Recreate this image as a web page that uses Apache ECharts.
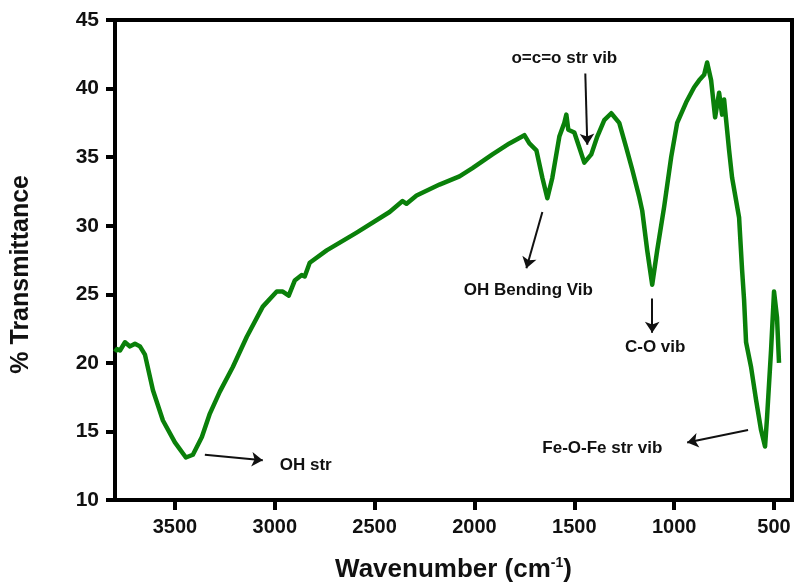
<!DOCTYPE html>
<html>
<head>
  <meta charset="utf-8">
  <script src="https://cdn.jsdelivr.net/npm/echarts@6/dist/echarts.min.js"></script>
  <style>
    body { margin: 0; background: #fff; }
    #ftir_chart { width: 796px; height: 583px; }
  </style>
</head>
<body>
  <div id="ftir_chart"></div>
  <script>
    // spectrum (cm-1, % transmittance)
    var wavenumber = [3800, 3790, 3775, 3750, 3725, 3700, 3675, 3650, 3610, 3560, 3500, 3445, 3410, 3365, 3325, 3275, 3210, 3140,
      3060, 2990, 2960, 2930, 2900, 2865, 2850, 2825, 2740, 2590, 2425, 2360, 2340, 2290, 2175, 2075, 2010, 1910, 1825,
      1750, 1725, 1690, 1660, 1635, 1610, 1575, 1550, 1540, 1530, 1500, 1475, 1450, 1415, 1385, 1350, 1315, 1275, 1240,
      1210, 1175, 1160, 1135, 1110, 1085, 1050, 1015, 985, 940, 900, 875, 850, 835, 815, 795, 775, 760, 750, 725, 710,
      675, 660, 650, 640, 615, 590, 565, 545, 535, 515, 500, 485, 475];
    var transmittance = [20.8, 21.0, 20.9, 21.5, 21.2, 21.4, 21.2, 20.6, 18.0, 15.8, 14.2, 13.1, 13.3, 14.6, 16.3, 17.9, 19.7, 21.9,
      24.1, 25.2, 25.2, 24.9, 26.0, 26.4, 26.3, 27.3, 28.2, 29.5, 31.0, 31.8, 31.6, 32.2, 33.0, 33.6, 34.2, 35.2, 36.0,
      36.6, 36.0, 35.5, 33.5, 32.0, 33.5, 36.5, 37.5, 38.1, 37.0, 36.8, 35.7, 34.6, 35.2, 36.5, 37.7, 38.2, 37.5, 35.7,
      34.1, 32.1, 31.1, 28.2, 25.7, 28.2, 31.4, 35.0, 37.5, 39.0, 40.1, 40.6, 41.0, 41.9, 40.6, 37.9, 39.7, 38.1, 39.2, 35.5, 33.5,
      30.6, 26.8, 24.6, 21.5, 19.7, 17.3, 15.1, 13.9, 16.0, 20.9, 25.2, 23.3, 20.0];

    var xTicks = [500, 1000, 1500, 2000, 2500, 3000, 3500];

    // annotations: label text, label centre, arrow start, arrow end (data units)
    var noteText = ['OH str', 'OH Bending Vib', 'C-O vib', 'o=c=o str vib', 'Fe-O-Fe str vib'];
    var notePos = [[2845, 12.5], [1730, 25.3], [1095, 21.1], [1550, 42.2], [1360, 13.8]];
    var arrowFrom = [[3350, 13.3], [1660, 31.0], [1110, 24.7], [1445, 41.1], [630, 15.1]];
    var arrowTo = [[3060, 12.9], [1740, 26.9], [1110, 22.2], [1435, 35.9], [935, 14.2]];

    var spectrum = wavenumber.map(function (w, i) { return [w, transmittance[i]]; });
    var labels = notePos.map(function (p, i) { return [p[0], p[1], noteText[i]]; });
    var arrows = arrowFrom.map(function (a, i) {
      return [{ coord: a, symbol: 'none' }, { coord: arrowTo[i], symbol: 'arrow', symbolSize: 11 }];
    });

    var chart = echarts.init(document.getElementById('ftir_chart'));
    var font = '"Liberation Sans", Arial, sans-serif';
    chart.setOption({
      animation: false,
      backgroundColor: '#fff',
      grid: {
        left: 115, right: 4, top: 20, bottom: 83, outerBoundsMode: 'none',
        show: true, borderColor: '#000', borderWidth: 4
      },
      graphic: [{
        type: 'text', left: 9, top: 175, rotation: Math.PI / 2, silent: true,
        style: { text: '% Transmittance', fill: '#111', font: 'bold 25px ' + font }
      }],
      xAxis: {
        type: 'value', inverse: true, min: 410, max: 3800,
        name: 'Wavenumber (cm{sup|-1})', nameLocation: 'middle', nameGap: 56,
        nameTextStyle: {
          color: '#111', fontSize: 26, fontWeight: 'bold', fontFamily: font,
          rich: { sup: { fontSize: 14, fontWeight: 'bold', fontFamily: font, verticalAlign: 'top', padding: [0, 0, 14, 0] } }
        },
        axisLine: { lineStyle: { color: '#000', width: 4 } },
        axisTick: { show: true, customValues: xTicks, length: 10, lineStyle: { width: 4, color: '#000' } },
        axisLabel: {
          customValues: xTicks, margin: 17, color: '#111', fontSize: 20, fontWeight: 'bold', fontFamily: font,
          formatter: function (v) { return String(v); }
        },
        splitLine: { show: false }
      },
      yAxis: {
        type: 'value', min: 10, max: 45, interval: 5,
        axisLine: { show: true, lineStyle: { color: '#000', width: 4 } },
        axisTick: { show: true, length: 9, lineStyle: { width: 4, color: '#000' } },
        axisLabel: { margin: 16, color: '#111', fontSize: 21, fontWeight: 'bold', fontFamily: font },
        splitLine: { show: false }
      },
      series: [
        {
          name: 'FTIR', type: 'line', data: spectrum, showSymbol: false, smooth: false,
          lineStyle: { color: '#0a800a', width: 4.5, join: 'round' },
          markLine: {
            silent: true, symbol: ['none', 'arrow'], symbolSize: 11,
            lineStyle: { color: '#111', width: 2, type: 'solid' },
            label: { show: false }, emphasis: { disabled: true },
            data: arrows
          }
        },
        {
          name: 'notes', type: 'custom', data: labels, silent: true,
          renderItem: function (params, api) {
            var pt = api.coord([api.value(0), api.value(1)]);
            return {
              type: 'text', x: pt[0], y: pt[1],
              style: {
                text: labels[params.dataIndex][2], fill: '#111', align: 'center', verticalAlign: 'middle',
                font: 'bold 17px ' + font
              }
            };
          }
        }
      ]
    });
  </script>
</body>
</html>
